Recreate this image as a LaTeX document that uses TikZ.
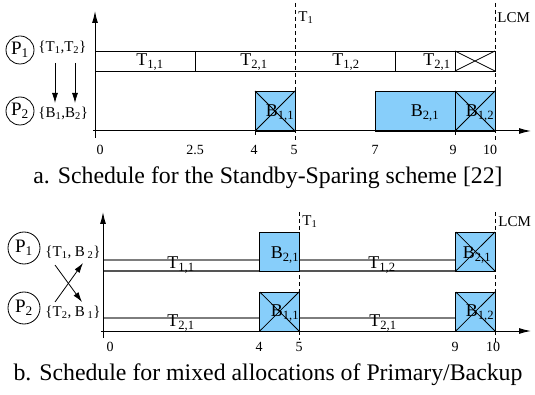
\documentclass[tikz,border=0pt]{standalone}
\usepackage{fontspec}
\setmainfont{Liberation Serif}
\usetikzlibrary{arrows.meta}
\definecolor{slotblue}{RGB}{135,206,250}
\definecolor{bandtop}{RGB}{125,125,125}
\definecolor{bandbot}{RGB}{85,85,85}
\newcommand{\sub}[1]{\textsubscript{#1}}
\begin{document}
\begin{tikzpicture}[x=1pt,y=-1pt,line width=0.8pt,
  axis/.style={line width=1pt,-{Latex[length=12pt,width=6pt]}},
  slot/.style={draw=black,line width=0.8pt},
  backup/.style={draw=black,fill=slotblue,line width=0.8pt},
  bandup/.style={draw=bandtop,line width=1.1pt},
  banddown/.style={draw=bandbot,line width=1.1pt},
  deadline/.style={line width=0.7pt,dash pattern=on 4pt off 3pt},
  lbl/.style={font=\fontsize{18}{20}\selectfont,inner sep=0pt},
  ticklbl/.style={font=\fontsize{14}{16}\selectfont,inner sep=0pt},
  marklbl/.style={font=\fontsize{15}{17}\selectfont,inner sep=0pt,anchor=west},
  proc/.style={draw,circle,inner sep=0pt,line width=0.8pt,font=\fontsize{19}{21}\selectfont},
  taskset/.style={font=\fontsize{15}{17}\selectfont,inner sep=0pt,anchor=west},
  captext/.style={font=\fontsize{23.8}{26}\selectfont,inner sep=0pt},
  move/.style={line width=0.8pt,-{Latex[length=10pt,width=6pt]}}
]
\useasboundingbox (0,0) rectangle (535,395);

% ---------- (a) standby-sparing ----------
% deadlines
\draw[deadline] (295,3) -- (295,140);
\draw[deadline] (495,3) -- (495,142);
\node[marklbl] (t1a) at (298,18) {T\sub{1}};
\node[marklbl] (lcma) at (497,18) {LCM};

% primary processor row
\draw[slot] (95,51) rectangle (495,71);
\draw[slot] (195,51) -- (195,71);
\draw[slot] (395,51) -- (395,71);
\draw[slot] (455,51) -- (455,71);
\draw[slot] (455,51) -- (495,71) (455,71) -- (495,51);
\node[lbl] (a11) at (150,62) {T\sub{1,1}};
\node[lbl] (a21) at (254,62) {T\sub{2,1}};
\node[lbl] (a12) at (346,62) {T\sub{1,2}};
\node[lbl] (a21b) at (437,62) {T\sub{2,1}};

% spare processor row
\draw[backup] (255,91) rectangle (295,131);
\draw (255,91) -- (295,131) (255,131) -- (295,91);
\draw[backup] (375,91) rectangle (455,131);
\draw[backup] (455,91) rectangle (495,131);
\draw (455,91) -- (495,131) (455,131) -- (495,91);
\node[lbl] (ab11) at (280,113) {B\sub{1,1}};
\node[lbl] (ab21) at (425,113) {B\sub{2,1}};
\node[lbl] (ab12) at (480,113) {B\sub{1,2}};

% axes
\draw[axis] (95,138) -- (95,11);
\draw[axis] (93,131) -- (531,131);
\draw (255,131) -- (255,135) (455,131) -- (455,135);
\node[ticklbl] (xa0) at (100,150) {0};
\node[ticklbl] (xa25) at (195,150) {2.5};
\node[ticklbl] (xa4) at (254,150) {4};
\node[ticklbl] (xa5) at (294,150) {5};
\node[ticklbl] (xa7) at (375,150) {7};
\node[ticklbl] (xa9) at (453,150) {9};
\node[ticklbl] (xa10) at (490,150) {10};

% processors and task sets
\node[proc,minimum size=28pt] (p1a) at (20,50) {P\sub{1}};
\node[taskset] (s1a) at (38,47) {\{T\sub{1},T\sub{2}\}};
\node[proc,minimum size=28pt] (p2a) at (20,111) {P\sub{2}};
\node[taskset] (s2a) at (38,113) {\{B\sub{1},B\sub{2}\}};
\coordinate (ua1) at (55,63);
\coordinate (da1) at (55,103);
\coordinate (ua2) at (75,63);
\coordinate (da2) at (75,103);
\draw[move] (ua1) -- (da1);
\draw[move] (ua2) -- (da2);

\node[captext] (capa) at (268,178) {a. Schedule for the Standby-Sparing scheme [22]};

% ---------- (b) mixed allocation ----------
\draw[deadline] (299,212) -- (299,340);
\draw[deadline] (495,212) -- (495,342);
\node[marklbl] (t1b) at (302,222) {T\sub{1}};
\node[marklbl] (lcmb) at (498,222) {LCM};

% P1 row
\draw[bandup] (103,260) -- (259.8,260);
\draw[banddown] (103,271) -- (259.8,271);
\draw[bandup] (299,260) -- (455.8,260);
\draw[banddown] (299,271) -- (455.8,271);
\draw[backup] (259.8,232) rectangle (299,271);
\draw[backup] (455.8,232) rectangle (495,271);
\draw (455.8,232) -- (495,271) (455.8,271) -- (495,232);
\node[lbl] (b11) at (181,265) {T\sub{1,1}};
\node[lbl] (b12) at (382,265) {T\sub{1,2}};
\node[lbl] (bb21) at (285,255) {B\sub{2,1}};
\node[lbl] (bb21b) at (477,255) {B\sub{2,1}};

% P2 row
\draw[bandup] (103,318) -- (259.8,318);
\draw[bandup] (299,318) -- (455.8,318);
\draw[backup] (259.8,292) rectangle (299,331);
\draw (259.8,292) -- (299,331) (259.8,331) -- (299,292);
\draw[backup] (455.8,292) rectangle (495,331);
\draw (455.8,292) -- (495,331) (455.8,331) -- (495,292);
\node[lbl] (b21) at (181,323) {T\sub{2,1}};
\node[lbl] (b21b) at (383,323) {T\sub{2,1}};
\node[lbl] (bb11) at (285,313) {B\sub{1,1}};
\node[lbl] (bb12) at (480,313) {B\sub{1,2}};

% axes
\draw[axis] (103,338) -- (103,212);
\draw[axis] (101,331) -- (531,331);
\node[ticklbl] (xb0) at (110,347) {0};
\node[ticklbl] (xb4) at (259,347) {4};
\node[ticklbl] (xb5) at (299,347) {5};
\node[ticklbl] (xb9) at (455,347) {9};
\node[ticklbl] (xb10) at (493,347) {10};

% processors and task sets
\node[proc,minimum size=32pt] (p1b) at (24,248) {P\sub{1}};
\node[taskset] (s1b) at (45,252) {\{T\sub{1}, B\,\sub{2}\}};
\node[proc,minimum size=32pt] (p2b) at (24,308) {P\sub{2}};
\node[taskset] (s2b) at (45,312) {\{T\sub{2}, B\,\sub{1}\}};
\coordinate (ub1) at (55,265);
\coordinate (db1) at (82,302);
\coordinate (ub2) at (55,302);
\coordinate (db2) at (83,263);
\draw[move] (ub1) -- (db1);
\draw[move] (ub2) -- (db2);

\node[captext] (capb) at (268,375) {b. Schedule for mixed allocations of Primary/Backup};
\end{tikzpicture}
\end{document}
